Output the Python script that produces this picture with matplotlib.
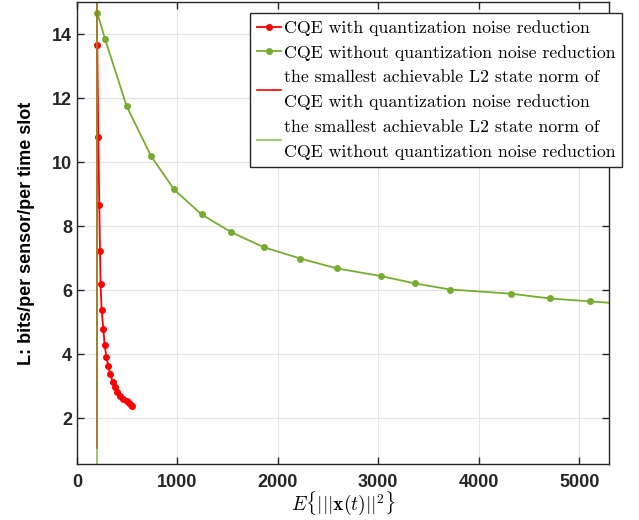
import numpy as np
import matplotlib.pyplot as plt

plt.rcParams['mathtext.fontset'] = 'cm'

# CQE with quantization noise reduction
x_red = [202, 212, 222, 229, 235, 245, 262, 275, 292, 312, 331, 355, 378,
         401, 427, 454, 494, 517, 537, 550]
y_red = [13.67, 10.79, 8.66, 7.21, 6.18, 5.39, 4.78, 4.30, 3.92, 3.62, 3.37,
         3.13, 2.96, 2.80, 2.70, 2.59, 2.54, 2.47, 2.41, 2.37]

# CQE without quantization noise reduction
x_green = [202, 278, 494, 736, 967, 1240, 1538, 1862, 2224, 2588, 3029, 3367,
           3718, 4321, 4709, 5109, 5520]
y_green = [14.68, 13.87, 11.76, 10.20, 9.15, 8.37, 7.81, 7.34, 6.99, 6.68,
           6.44, 6.21, 6.02, 5.89, 5.74, 5.65, 5.55]

# smallest achievable L2 state norms
bound_red = 199
bound_green = 195

labels = ['CQE with quantization noise reduction',
          'CQE without quantization noise reduction',
          'the smallest achievable L2 state norm of\nCQE with quantization noise reduction',
          'the smallest achievable L2 state norm of\nCQE without quantization noise reduction']

red = '#ff0000'
green = '#77ac30'

fig = plt.figure(figsize=(6.39, 5.2), dpi=100)
ax = fig.add_axes([0.1205, 0.107, 0.833, 0.890])

ax.plot(x_red, y_red, '.-', color=red, lw=1.3, ms=8, label=labels[0])
ax.plot(x_green, y_green, '.-', color=green, lw=1.3, ms=8, label=labels[1])
ax.plot([bound_red, bound_red], [1.05, 15.5], color=red, lw=1.2, label=labels[2])
ax.plot([bound_green, bound_green], [0, 15.5], color=green, lw=1.3, alpha=0.75,
        label=labels[3])

ax.set_xlim(0, 5300)
ax.set_ylim(0.55, 15.03)
ax.set_xticks([0, 1000, 2000, 3000, 4000, 5000])
ax.set_yticks([2, 4, 6, 8, 10, 12, 14])
ax.grid(True, color='#e3e3e3', lw=0.8)
ax.tick_params(direction='in', top=True, right=True, length=5, width=1,
               colors='#262626', labelsize=13)
ax.tick_params(axis='x', pad=7)
for lab in ax.get_xticklabels() + ax.get_yticklabels():
    lab.set_fontweight('bold')
    lab.set_family('Liberation Sans')
for s in ax.spines.values():
    s.set_color('#262626')
    s.set_linewidth(1.0)

ax.set_xlabel(r'$E\{|||\mathbf{x}(t)||^2\}$', fontsize=14, labelpad=-1)
ax.set_ylabel('L: bits/per sensor/per time slot', fontsize=13,
              fontweight='bold', family='Liberation Sans', labelpad=12)

leg = ax.legend(loc='upper right', bbox_to_anchor=(0.974, 0.975),
                bbox_transform=fig.transFigure, borderaxespad=0,
                prop={'family': 'cmr10', 'size': 12.8}, fancybox=False,
                edgecolor='#262626', framealpha=1, handlelength=1.35,
                handletextpad=0.15, borderpad=0.4, labelspacing=0.5)
leg.get_frame().set_linewidth(1.0)
for t in leg.get_texts():
    t.set_linespacing(1.75)

fig.savefig('out.png', dpi=100)
